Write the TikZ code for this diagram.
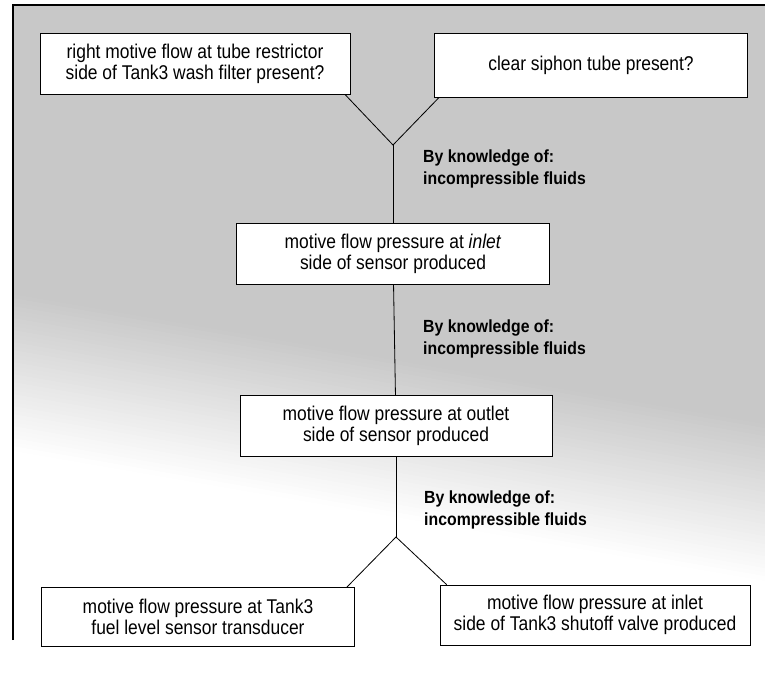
\documentclass[tikz,border=0pt]{standalone}
\usepackage{fontspec}
\setmainfont{Liberation Sans}
\newfontfamily\boxfont[FakeStretch=0.875]{Liberation Sans}
\newfontfamily\notefont[FakeStretch=0.9]{Liberation Sans}
\usepackage{tikz}
\usetikzlibrary{calc,positioning}
\definecolor{screen}{HTML}{C8C8C8}
\tikzset{
  box/.style={draw=black,line width=0.6pt,fill=white,minimum width=310*0.03cm,minimum height=61*0.03cm,align=center,inner sep=2pt,font=\boxfont\fontsize{17}{18.5}\selectfont},
  note/.style={anchor=north west,align=left,inner sep=0pt,font=\notefont\bfseries\fontsize{15}{18}\selectfont},
  link/.style={draw=black,line width=0.7pt}
}

\begin{document}
\begin{tikzpicture}[x=0.03cm,y=-0.03cm]
\useasboundingbox (0,0) rectangle (765,683);
% screened background, fading out towards the lower left
\fill[screen] (13,5) -- (765,5) -- (765,421) -- (13,291) -- cycle;
\foreach \i [evaluate=\i as \pct using 100-2.5*\i] in {0,...,39}
  \fill[screen!\pct!white] (13,290+4*\i) -- (765,420+4*\i) -- (765,425+4*\i) -- (13,295+4*\i) -- cycle;
\draw[line width=1.2pt] (13,640) -- (13,5) -- (765,5);

\node[box] (tube) at (195,64) {right motive flow at tube restrictor\\side of Tank3 wash filter present?};
\node[box,minimum width=313*0.03cm,minimum height=64*0.03cm] (siphon) at (591,65) {clear siphon tube present?};
\node[box,minimum width=313*0.03cm] (inlet) at (393,254) {motive flow pressure at \textit{inlet}\\side of sensor produced};
\node[box,minimum width=312*0.03cm] (outlet) at (396,426) {motive flow pressure at outlet\\side of sensor produced};
\node[box,minimum width=313*0.03cm,minimum height=59*0.03cm] (gauge) at (198,617) {motive flow pressure at Tank3\\fuel level sensor transducer};
\node[box,minimum height=60*0.03cm] (valve) at (595,615) {motive flow pressure at inlet\\side of Tank3 shutoff valve produced};

\coordinate (upfork) at (393,145);
\coordinate (downfork) at (396,537);

\draw[link] ($(tube.south east)+(-5,0)$) -- (upfork) -- ($(siphon.south west)+(5,0)$);
\draw[link] (upfork) -- (inlet);
\draw[link] (inlet) -- (outlet);
\draw[link] (outlet) -- (downfork);
\draw[link] ($(gauge.north east)+(-8,0)$) -- (downfork) -- ($(valve.north west)+(7,0)$);

\node[note] (why1) at (423,150) {By knowledge of:\\incompressible fluids};
\node[note] (why2) at (423,320) {By knowledge of:\\incompressible fluids};
\node[note] (why3) at (424,491) {By knowledge of:\\incompressible fluids};
\end{tikzpicture}
\end{document}
